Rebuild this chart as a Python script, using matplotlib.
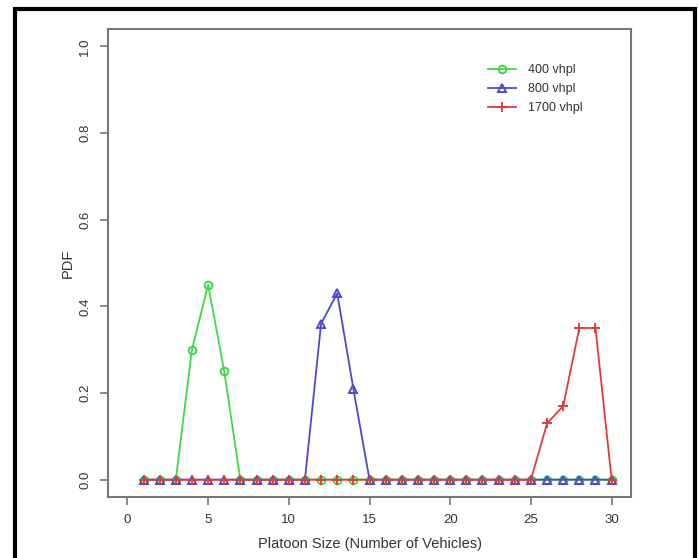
import matplotlib
matplotlib.use("Agg")
import matplotlib.pyplot as plt
from matplotlib.patches import Rectangle

# platoon sizes 1..30
sizes = list(range(1, 31))

# PDF values
pdf_400 = [0, 0, 0, 0.30, 0.45, 0.25] + [0] * 24
pdf_800 = [0] * 11 + [0.36, 0.43, 0.21] + [0] * 16
pdf_1700 = [0] * 25 + [0.13, 0.17, 0.35, 0.35, 0]

labels = ["400 vhpl", "800 vhpl", "1700 vhpl"]
x_ticks = [0, 5, 10, 15, 20, 25, 30]
y_ticks = [0.0, 0.2, 0.4, 0.6, 0.8, 1.0]

plt.rcParams['font.family'] = ['Liberation Sans', 'DejaVu Sans']

fig = plt.figure(figsize=(6.99, 5.58), dpi=100)
ax = fig.add_axes([108 / 699, 1 - 497 / 558, (631 - 108) / 699, (497 - 29) / 558])

ax.plot(sizes, pdf_400, color='#3ddc3d', lw=1.3, marker='o', ms=5.5,
        mfc='none', mew=1.4, label=labels[0])
ax.plot(sizes, pdf_800, color='#4a4ad0', lw=1.3, marker='^', ms=6,
        mfc='none', mew=1.4, label=labels[1])
ax.plot(sizes, pdf_1700, color='#e03c3c', lw=1.3, marker='+', ms=7.5,
        mew=1.4, label=labels[2])

# R style axis ranges (4% padding)
ax.set_xlim(-1.2, 31.2)
ax.set_ylim(-0.04, 1.04)
ax.set_xticks(x_ticks)
ax.set_xticklabels([str(t) for t in x_ticks])
ax.set_yticks(y_ticks)
ax.set_yticklabels(["%.1f" % t for t in y_ticks], rotation=90, va='center')

for s in ax.spines.values():
    s.set_color('#777777')
    s.set_linewidth(1.5)
ax.tick_params(direction='out', length=6, width=1.2, color='#777777',
               labelcolor='#333333', labelsize=9.5, pad=6)

ax.set_xlabel("Platoon Size (Number of Vehicles)", fontsize=10.5,
              color='#333333', labelpad=8)
ax.set_ylabel("PDF", fontsize=10.5, color='#333333', labelpad=3)

ax.legend(loc='upper left', bbox_to_anchor=(482 / 699, 1 - 58 / 558),
          bbox_transform=fig.transFigure, frameon=False, fontsize=9,
          handlelength=2.2, handletextpad=1.0, labelspacing=0.55,
          borderpad=0, labelcolor='#333333')

# thick black frame around the figure
fig.patches.append(Rectangle((14.5 / 699, -0.05), 680 / 699, 1.05 - 8.5 / 558,
                             transform=fig.transFigure, fill=False,
                             edgecolor='black', lw=3, zorder=10))

plt.savefig("out.png", dpi=100)
